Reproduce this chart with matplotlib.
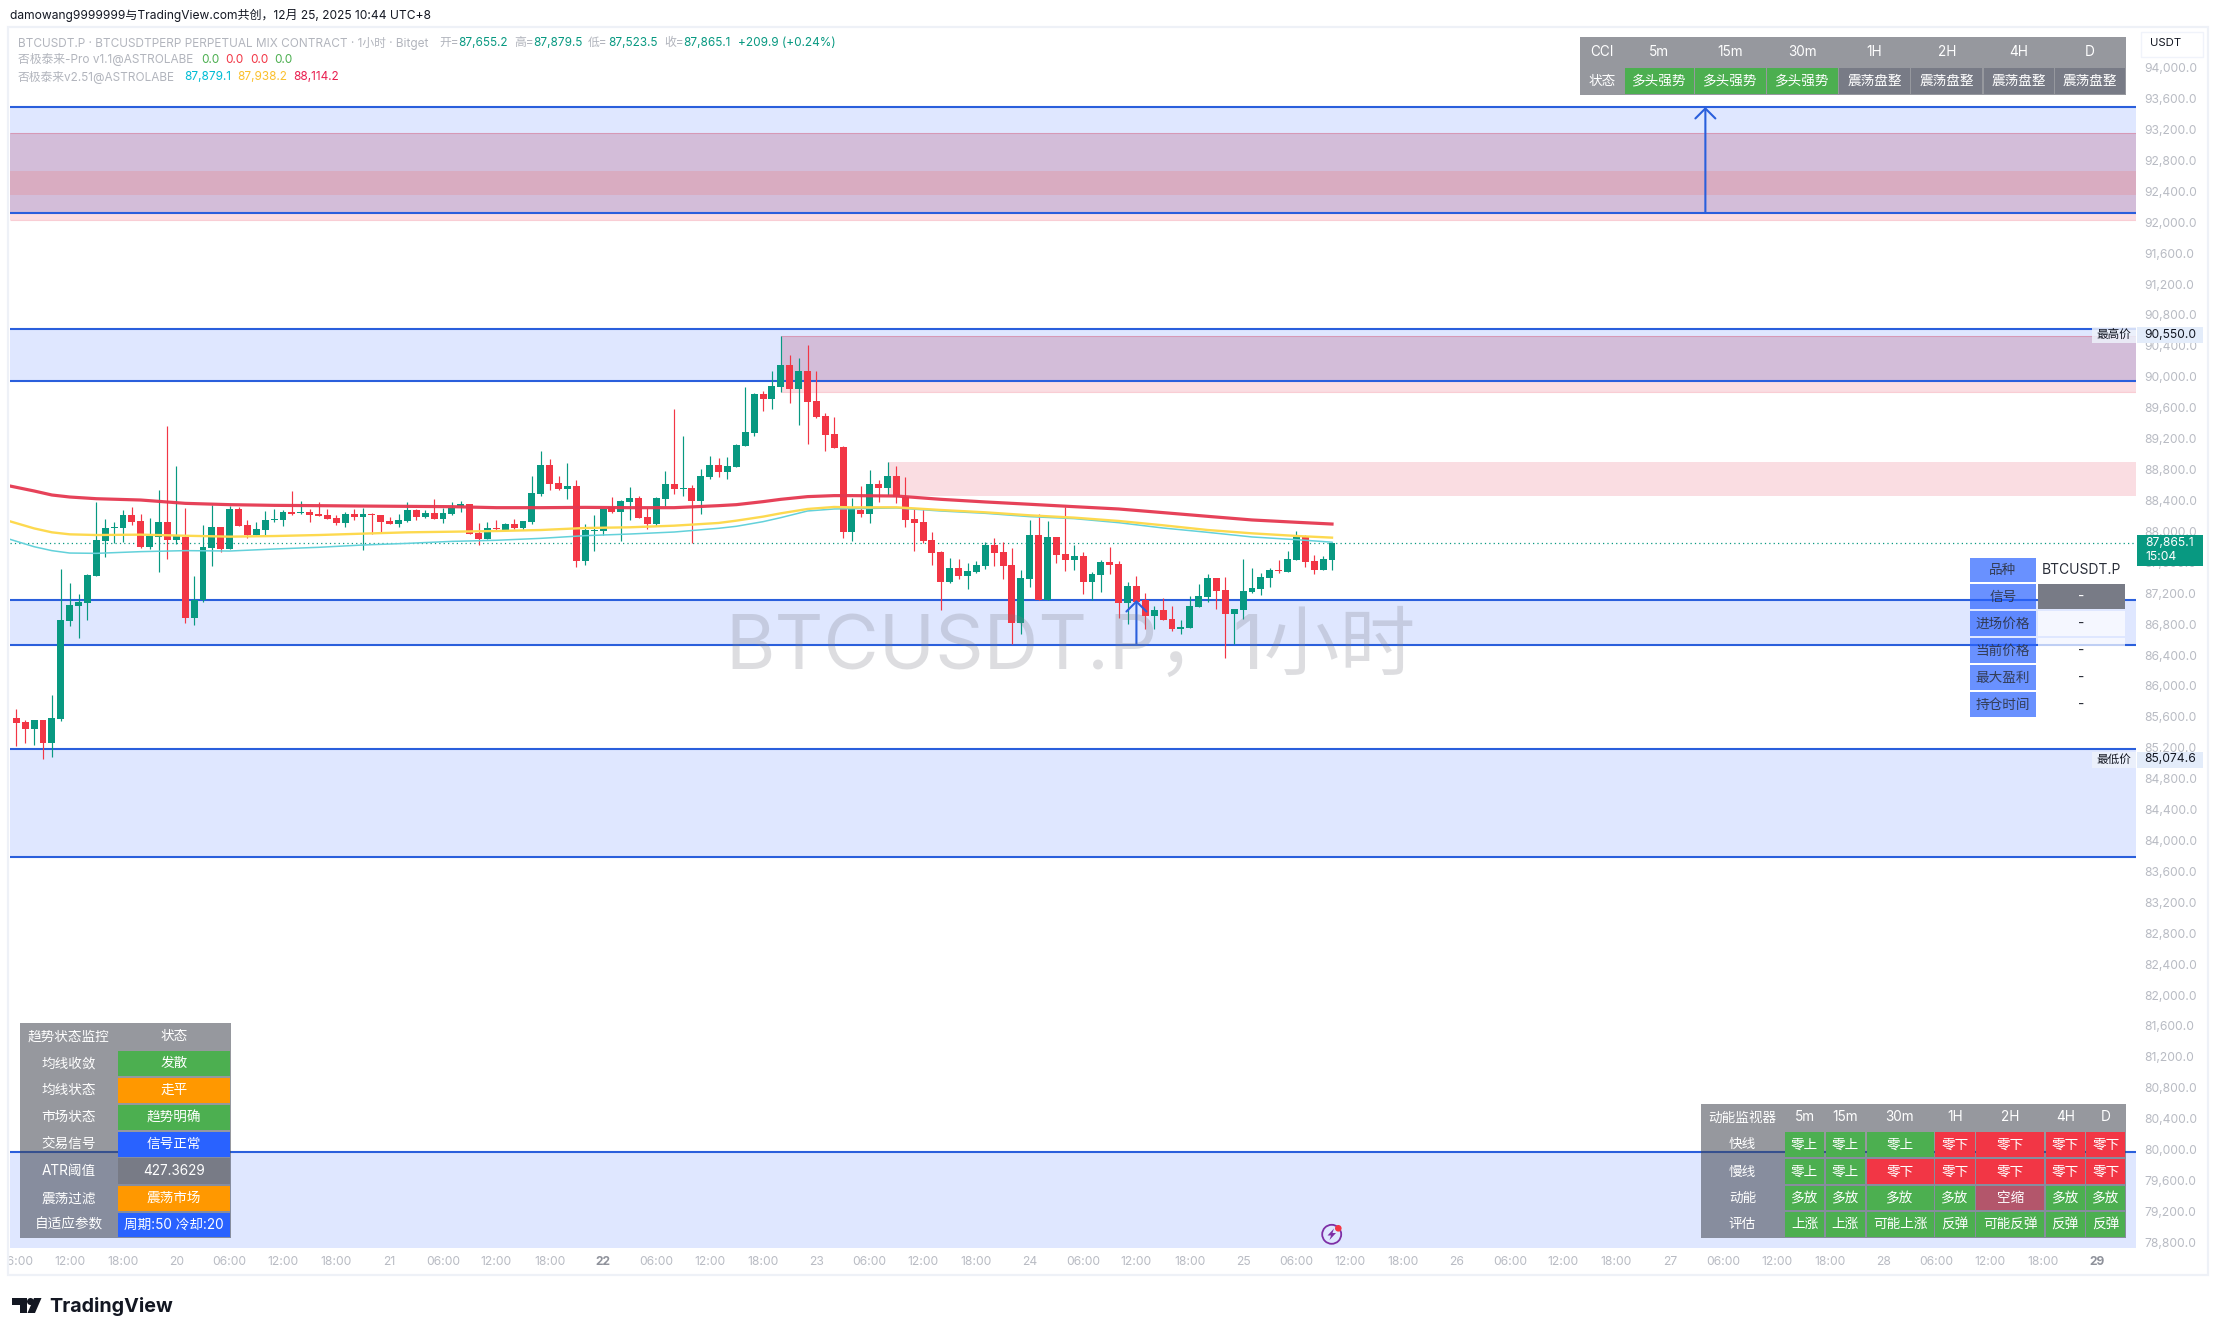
"""Recreate a TradingView BTCUSDT.P 1h chart with its indicator tables."""

import matplotlib

matplotlib.use("Agg")
import matplotlib.pyplot as plt  # noqa: E402
from matplotlib.patches import Circle, Polygon, Rectangle  # noqa: E402
from matplotlib.ticker import StrMethodFormatter  # noqa: E402
from matplotlib.transforms import ScaledTranslation  # noqa: E402

plt.rcParams["font.family"] = ["Inter", "Noto Sans CJK SC", "DejaVu Sans"]

W, H = 2218, 1336

# hourly candles, 19 Dec 06:00 to 25 Dec 10:00
opens = [
    85600, 85553, 85466, 85574, 85285, 85592, 86864, 87054, 87097, 87446,
    87899, 88067, 88067, 88227, 88149, 87821, 87951, 88140, 87912, 87951,
    86903, 87131, 87808, 88076, 87795, 88309, 88097, 87972, 88037, 88166,
    88166, 88266, 88257, 88270, 88240, 88227, 88188, 88128, 88240, 88209,
    88240, 88227, 88149, 88115, 88158, 88291, 88205, 88253, 88179, 88240,
    88352, 88374, 87994, 87921, 88059, 88037, 88115, 88063, 88141, 88507,
    88878, 88645, 88568, 88607, 87640, 88029, 88029, 88335, 88274, 88400,
    88451, 88205, 88115, 88438, 88632, 88568, 88581, 88412, 88727, 88878,
    88788, 88852, 89124, 89292, 89797, 89732, 89887, 90172, 89862, 90095,
    89706, 89512, 89279, 89111, 88011, 88296, 88244, 88632, 88581, 88736,
    88469, 88180, 88141, 87908, 87753, 87365, 87546, 87442, 87494, 87572,
    87843, 87753, 87585, 86834, 87403, 87973, 87132, 87947, 87727, 87649,
    87701, 87365, 87455, 87623, 87598, 87093, 87313, 87132, 86925, 87002,
    86886, 86757, 86769, 87041, 87171, 87416, 87261, 86951, 87002, 87235,
    87274, 87416, 87520, 87494, 87649, 87947, 87636, 87520, 87655.2,
]
highs = [
    85717, 85579, 85579, 85579, 85902, 87532, 87351, 87205, 87463, 88399,
    88179, 88136, 88291, 88330, 88240, 88188, 88555, 89383, 88865, 88322,
    87442, 88097, 88360, 88076, 88347, 88330, 88166, 88136, 88278, 88304,
    88296, 88542, 88408, 88313, 88395, 88304, 88227, 88274, 88304, 88317,
    88253, 88227, 88209, 88240, 88395, 88309, 88291, 88438, 88317, 88395,
    88412, 88374, 88123, 88141, 88167, 88123, 88175, 88158, 88736, 89055,
    88952, 88736, 88900, 88684, 88111, 88227, 88309, 88460, 88425, 88589,
    88477, 88318, 88460, 88796, 89603, 89249, 88615, 88822, 88990, 88965,
    88982, 89150, 89883, 89806, 89836, 90090, 90550, 90302, 90258, 90431,
    90095, 89547, 89495, 89120, 88451, 88607, 88814, 88684, 88917, 88866,
    88719, 88305, 88305, 88012, 87761, 87675, 87662, 87606, 87632, 87878,
    87930, 87882, 87805, 87516, 88167, 88245, 88154, 87947, 88335, 87843,
    87753, 87494, 87649, 87818, 87632, 87365, 87442, 87222, 87054, 87153,
    87054, 86873, 87184, 87339, 87468, 87416, 87429, 87015, 87662, 87546,
    87481, 87546, 87649, 87766, 88025, 87973, 87714, 87701, 87879.5,
]
lows = [
    85246, 85285, 85259, 85075, 85104, 85570, 86795, 86644, 86872, 87446,
    87692, 87864, 87877, 88102, 87808, 87791, 87498, 87666, 87851, 86838,
    86812, 87110, 87575, 87757, 87795, 88089, 87929, 87972, 87972, 88145,
    88089, 88235, 88244, 88145, 88218, 88179, 88102, 88080, 88171, 87782,
    87981, 88007, 88110, 88080, 88136, 88166, 88197, 88175, 88132, 88231,
    88270, 87985, 87847, 87921, 88037, 88037, 88054, 88037, 88115, 88481,
    88555, 88555, 88438, 87563, 87589, 87770, 87973, 88261, 87899, 88167,
    88197, 88054, 88093, 88352, 88507, 88477, 87865, 88249, 88697, 88727,
    88697, 88852, 89124, 89258, 89577, 89603, 89823, 89680, 89396, 89150,
    89482, 89059, 89098, 87934, 87891, 88205, 88128, 88400, 88490, 88391,
    88081, 87770, 87865, 87585, 87002, 87352, 87403, 87274, 87481, 87533,
    87572, 87403, 86562, 86692, 87300, 87132, 87132, 87611, 87507, 87520,
    87209, 87132, 87235, 87468, 86899, 86821, 87106, 86757, 86757, 86873,
    86731, 86692, 86769, 87041, 87106, 87015, 86381, 86562, 86886, 87222,
    87197, 87300, 87481, 87494, 87649, 87559, 87468, 87520, 87523.5,
]
closes = [
    85544, 85466, 85574, 85285, 85600, 86872, 87062, 87105, 87450, 87908,
    88059, 88080, 88227, 88140, 87821, 87959, 88140, 87912, 87959, 86903,
    87131, 87817, 88076, 87795, 88309, 88093, 87972, 88046, 88162, 88179,
    88266, 88248, 88266, 88235, 88222, 88184, 88132, 88240, 88205, 88240,
    88227, 88145, 88115, 88162, 88291, 88205, 88253, 88179, 88253, 88326,
    88369, 87990, 87921, 88059, 88050, 88115, 88063, 88149, 88516, 88878,
    88632, 88568, 88607, 87640, 88037, 88037, 88305, 88274, 88412, 88451,
    88197, 88115, 88451, 88632, 88568, 88581, 88412, 88736, 88878, 88788,
    88865, 89137, 89305, 89797, 89732, 89900, 90172, 89862, 90095, 89693,
    89495, 89266, 89098, 88011, 88322, 88244, 88632, 88581, 88736, 88469,
    88167, 88128, 87895, 87740, 87365, 87546, 87442, 87507, 87585, 87843,
    87740, 87572, 86834, 87416, 87973, 87132, 87947, 87714, 87649, 87701,
    87365, 87468, 87623, 87585, 87093, 87313, 87106, 86925, 87002, 86873,
    86757, 86782, 87054, 87184, 87416, 87248, 86951, 87015, 87248, 87287,
    87429, 87520, 87507, 87662, 87947, 87623, 87520, 87662, 87865.1,
]

ma_idx = [-0.7, 2, 4, 6, 9, 14, 19, 24, 29, 34, 39, 44, 49, 54, 59, 64, 69, 74,
          79, 81, 84, 86, 89, 92, 94, 99, 104, 109, 114, 119, 124, 129, 134, 139, 144, 148]
ma_red = [88606, 88542, 88490, 88464, 88442, 88425, 88382, 88365, 88356, 88352, 88347, 88343,
          88339, 88326, 88326, 88330, 88326, 88326, 88352, 88365, 88404, 88434, 88469, 88482,
          88482, 88477, 88434, 88400, 88370, 88339, 88309, 88262, 88214, 88167, 88137, 88114.2]
ma_yellow = [88149, 88058, 88007, 87981, 87972, 87977, 87963, 87951, 87959, 87972, 87990, 88007,
             88015, 88024, 88037, 88063, 88072, 88093, 88128, 88158, 88210, 88253, 88309, 88335,
             88330, 88331, 88296, 88266, 88227, 88197, 88154, 88098, 88037, 87994, 87960, 87938.2]
ma_cyan = [87916, 87821, 87770, 87739, 87735, 87757, 87770, 87765, 87791, 87813, 87843, 87864,
           87890, 87904, 87929, 87964, 87985, 88011, 88059, 88085, 88145, 88197, 88283, 88309,
           88313, 88322, 88283, 88253, 88210, 88184, 88132, 88063, 88007, 87947, 87912, 87879.1]

# horizontal zones (low, high)
blue_low = [92143, 89965, 86549, 83803]
blue_high = [93511, 90640, 87131, 85204]
open_blue_top = 79992
pink_low = [92049, 89823, 88477]
pink_high = [93171, 90550, 88917]
pink_start = [-0.7, 86, 98]
stripe_low, stripe_high = 92370, 92687
arrow_idx = [190, 126]
arrow_low = [92143, 86549]
arrow_high = [93511, 87131]

last_price = 87865.1
max_price = 90550.0
min_price = 85074.6

time_labels = [
    "06:00", "12:00", "18:00",
    "20", "06:00", "12:00", "18:00", "21", "06:00", "12:00", "18:00",
    "22", "06:00", "12:00", "18:00", "23", "06:00", "12:00", "18:00",
    "24", "06:00", "12:00", "18:00", "25", "06:00", "12:00", "18:00",
    "26", "06:00", "12:00", "18:00", "27", "06:00", "12:00", "18:00",
    "28", "06:00", "12:00", "18:00", "29",
]
bold_ticks = ["22", "29"]

cci_head = ["CCI", "5m", "15m", "30m", "1H", "2H", "4H", "D"]
cci_state = ["状态", "多头强势", "多头强势", "多头强势", "震荡盘整", "震荡盘整", "震荡盘整", "震荡盘整"]

trend_names = ["趋势状态监控", "均线收敛", "均线状态", "市场状态", "交易信号", "ATR阈值", "震荡过滤", "自适应参数"]
trend_vals = ["状态", "发散", "走平", "趋势明确", "信号正常", "427.3629", "震荡市场", "周期:50 冷却:20"]

mom_head = ["动能监视器", "5m", "15m", "30m", "1H", "2H", "4H", "D"]
mom_rows = [
    ["快线", "零上", "零上", "零上", "零下", "零下", "零下", "零下"],
    ["慢线", "零上", "零上", "零下", "零下", "零下", "零下", "零下"],
    ["动能", "多放", "多放", "多放", "多放", "空缩", "多放", "多放"],
    ["评估", "上涨", "上涨", "可能上涨", "反弹", "可能反弹", "反弹", "反弹"],
]

pos_names = ["品种", "信号", "进场价格", "当前价格", "最大盈利", "持仓时间"]
pos_vals = ["BTCUSDT.P", "-", "-", "-", "-", "-"]

UP = "#089981"
DOWN = "#f23645"
LINE_BLUE = "#2a5fdc"
GREEN = "#4caf50"
ORANGE = "#ff9800"
BLUE = "#2962ff"
GREY = "#787b86"
PURPLE = "#7e2fa6"
TICK = "#b8bbc3"
LABEL = "#b2b5bd"
CELL_FONT = 9.8
LEGEND_FONT = 8.5

fig = plt.figure(figsize=(W / 100, H / 100), dpi=100, facecolor="white")
ax = fig.add_axes([10 / W, 1 - 1248 / H, 2126 / W, 1221 / H])
x_left, x_right = -0.709, 238.44
ax.set_xlim(x_left, x_right)
ax.set_ylim(78746, 94546)
for side in ax.spines.values():
    side.set_visible(False)

# zones
for lo, hi in zip(blue_low, blue_high):
    ax.axhspan(lo, hi, color="#2962ff", alpha=0.15, lw=0, zorder=1)
ax.axhspan(ax.get_ylim()[0], open_blue_top, color="#2962ff", alpha=0.15, lw=0, zorder=1)
for lo, hi, start in zip(pink_low, pink_high, pink_start):
    ax.fill_between([start, x_right], lo, hi, color="#e41c3e", alpha=0.15, lw=0, zorder=1.2)
# pink over blue comes out darker in the reference
ax.fill_between([pink_start[0], x_right], blue_low[0], pink_high[0], color="#000040", alpha=0.05, lw=0, zorder=1.25)
ax.fill_between([pink_start[1], x_right], blue_low[1], pink_high[1], color="#000040", alpha=0.05, lw=0, zorder=1.25)
ax.axhspan(stripe_low, stripe_high, color="#ff503c", alpha=0.15, lw=0, zorder=1.3)
for lo, hi, start in zip(pink_low[:2], pink_high[:2], pink_start[:2]):
    ax.hlines([lo, hi], start, x_right, color="#e41c3e", alpha=0.22, lw=0.8, zorder=1.35)
for level in blue_low + blue_high + [open_blue_top]:
    ax.axhline(level, color=LINE_BLUE, lw=1.5, zorder=1.5)

# candles
idx = list(range(len(opens)))
colors = [UP if c >= o else DOWN for o, c in zip(opens, closes)]
ax.vlines(idx, lows, highs, colors=colors, lw=0.85, zorder=3)
ax.bar(idx, [max(abs(c - o), 12) for o, c in zip(opens, closes)],
       bottom=[min(o, c) for o, c in zip(opens, closes)],
       width=0.78, color=colors, lw=0, zorder=3.1)

ax.plot(ma_idx, ma_cyan, color="#63d1da", lw=1.1, zorder=4)
ax.plot(ma_idx, ma_yellow, color="#fdd94f", lw=1.7, zorder=4.1)
ax.plot(ma_idx, ma_red, color="#e53850", lw=2.3, zorder=4.2, alpha=0.95)

ax.axhline(last_price, color=UP, lw=0.9, ls=(0, (1, 2.5)), zorder=2)

for i, lo, hi in zip(arrow_idx, arrow_low, arrow_high):
    ax.annotate("", xy=(i, hi), xytext=(i, lo), zorder=5,
                arrowprops=dict(arrowstyle="->,head_length=0.5,head_width=0.5", color=LINE_BLUE,
                                lw=1.5, mutation_scale=14.4, shrinkA=0, shrinkB=0))

# axes labels
ax.yaxis.tick_right()
ax.set_yticks(list(range(78800, 94400, 400)))
ax.yaxis.set_major_formatter(StrMethodFormatter("{x:,.1f}"))
ax.tick_params(axis="y", length=0, pad=5.9, labelsize=8.7, labelcolor=TICK)
nudge = ScaledTranslation(0, 1.5 / 100, fig.dpi_scale_trans)
for tick in ax.yaxis.get_major_ticks():
    tick.label2.set_transform(tick.label2.get_transform() + nudge)
ax.set_xticks(list(range(0, 235, 6)))
ax.set_xticklabels(time_labels)
ax.tick_params(axis="x", length=0, pad=5.8, labelsize=8.7, labelcolor=TICK)
for tick in ax.get_xticklabels():
    if tick.get_text() in bold_ticks:
        tick.set_fontweight("bold")
        tick.set_color("#8f929b")

# pixel overlay for tables and labels
ov = fig.add_axes([0, 0, 1, 1], zorder=10)
ov.set_xlim(0, W)
ov.set_ylim(H, 0)
ov.axis("off")
ov.patch.set_alpha(0)

ov.add_patch(Rectangle((0, 1250), 8, 26, fc="white", ec="none"))
ov.add_patch(Rectangle((8, 27), 2200, 1248, fc="none", ec="#eef1f7", lw=1.6))

ov.text(1071, 649, "BTCUSDT.P，1小时", color=GREY, alpha=0.25, fontsize=54.5, ha="center", va="center")


def put(x, y, s, color="white", size=CELL_FONT, ha="center", **kw):
    ov.text(x, y, s, color=color, fontsize=size, ha=ha, va="center", **kw)


def cell(x0, x1, y0, y1, color, alpha=1.0, inset=0.8):
    ov.add_patch(Rectangle((x0 + inset, y0 + inset), x1 - x0 - 2 * inset, y1 - y0 - 2 * inset,
                           fc=color, ec="none", alpha=alpha))


def backdrop(x0, x1, y0, y1):
    ov.add_patch(Rectangle((x0, y0), x1 - x0, y1 - y0, fc="#40444f", ec="none", alpha=0.55))


def mid(a, b):
    return (a + b) / 2


# header legends
put(10, 15, "damowang9999999与TradingView.com共创，12月 25, 2025 10:44 UTC+8", color="#131722", size=8.65, ha="left")
put(18, 43, "BTCUSDT.P · BTCUSDTPERP PERPETUAL MIX CONTRACT · 1小时 · Bitget", color=LABEL, size=LEGEND_FONT, ha="left")
for x, s in [(439, "开="), (514, "高="), (588, "低="), (664, "收=")]:
    put(x, 43, s, color=LABEL, size=LEGEND_FONT, ha="left")
for x, s in [(458, "87,655.2"), (533, "87,879.5"), (608, "87,523.5"), (683, "87,865.1"), (738, "+209.9 (+0.24%)")]:
    put(x, 43, s, color=UP, size=LEGEND_FONT, ha="left")
put(18, 60, "否极泰来-Pro v1.1@ASTROLABE", color=LABEL, size=LEGEND_FONT, ha="left")
for x, c in [(201, GREEN), (225, DOWN), (250, DOWN), (274, GREEN)]:
    put(x, 60, "0.0", color=c, size=LEGEND_FONT, ha="left")
put(18, 77, "否极泰来v2.51@ASTROLABE", color=LABEL, size=LEGEND_FONT, ha="left")
for x, s, c in [(184, "87,879.1", "#00bcd4"), (237, "87,938.2", "#fbc02d"), (293, "88,114.2", "#e91e4f")]:
    put(x, 77, s, color=c, size=LEGEND_FONT, ha="left")

# CCI table
cci_x = [1580, 1624, 1694.3, 1766.5, 1838.6, 1910.4, 1983, 2054.3, 2126]
cci_y = [36.7, 66.7, 95]
backdrop(cci_x[0], cci_x[-1], cci_y[0], cci_y[-1])
for c, s in enumerate(cci_head):
    put(mid(cci_x[c], cci_x[c + 1]), mid(cci_y[0], cci_y[1]), s)
for c, s in enumerate(cci_state):
    xm = mid(cci_x[c], cci_x[c + 1])
    if c:
        cell(cci_x[c], cci_x[c + 1], cci_y[1], cci_y[2], GREEN if s == "多头强势" else GREY)
    put(xm, mid(cci_y[1], cci_y[2]), s)

# trend table
tr_x = [20, 117, 231]
tr_y = [1022.7, 1050, 1076.7, 1103.7, 1130.7, 1157.3, 1184.7, 1211.7, 1238]
tr_colors = [None, GREEN, ORANGE, GREEN, BLUE, GREY, ORANGE, BLUE]
backdrop(tr_x[0], tr_x[-1], tr_y[0], tr_y[-1])
for r, (name, val, col) in enumerate(zip(trend_names, trend_vals, tr_colors)):
    ym = mid(tr_y[r], tr_y[r + 1])
    if col:
        cell(tr_x[1], tr_x[2], tr_y[r], tr_y[r + 1], col)
    put(mid(tr_x[0], tr_x[1]), ym, name)
    put(mid(tr_x[1], tr_x[2]), ym, val)

# momentum table
mo_x = [1701, 1784, 1825.2, 1865.7, 1934.3, 1975.5, 2044.8, 2085.6, 2126]
mo_y = [1104, 1130.7, 1158, 1185, 1211, 1237.7]
mo_fill = {"零上": GREEN, "零下": DOWN, "多放": GREEN, "空缩": "#b3566b"}
backdrop(mo_x[0], mo_x[-1], mo_y[0], mo_y[-1])
for c, s in enumerate(mom_head):
    put(mid(mo_x[c], mo_x[c + 1]), mid(mo_y[0], mo_y[1]), s)
for r, row in enumerate(mom_rows):
    for c, s in enumerate(row):
        xm, ym = mid(mo_x[c], mo_x[c + 1]), mid(mo_y[r + 1], mo_y[r + 2])
        if c:
            cell(mo_x[c], mo_x[c + 1], mo_y[r + 1], mo_y[r + 2], mo_fill.get(s, GREEN))
        put(xm, ym, s)

# position table
po_x = [1969, 2037, 2126]
po_y = [557, 583.3, 610.3, 637.3, 664.3, 691.3, 718]
for r, (name, val) in enumerate(zip(pos_names, pos_vals)):
    ym = mid(po_y[r], po_y[r + 1])
    cell(po_x[0], po_x[1], po_y[r], po_y[r + 1], BLUE, alpha=0.7)
    put(mid(po_x[0], po_x[1]), ym, name, color="#2a2e39", alpha=0.85)
    if r == 1:
        cell(po_x[1], po_x[2], po_y[r], po_y[r + 1], GREY)
    elif r:
        cell(po_x[1], po_x[2], po_y[r], po_y[r + 1], "white", alpha=0.7)
    put(mid(po_x[1], po_x[2]), ym, val, color="white" if r == 1 else "#2a2e39", size=10 if r == 0 else CELL_FONT)

# price axis tags
ov.add_patch(Rectangle((2141, 32), 62, 25, fc="white", ec="#f0f3fa", lw=1))
put(2150, 43, "USDT", color="#131722", size=8.2, ha="left")

ov.add_patch(Rectangle((2137, 535), 66, 31, fc=UP, ec="none"))
put(2145, 543, "87,865.1", size=8.7, ha="left")
put(2145, 557, "15:04", size=8.7, ha="left")

for y, name, price in [(335, "最高价", max_price), (759.5, "最低价", min_price)]:
    ov.add_patch(Rectangle((2137, y - 8), 66, 16, fc="#e3ecfa", ec="none"))
    put(2170, y, f"{price:,.1f}", color="#131722", size=8.7)
    ov.add_patch(Rectangle((2092, y - 8), 44, 16, fc="#eef2fb", ec="none", alpha=0.85))
    put(2131, y, name, color="#131722", size=8.4, ha="right")

# lightning marker
ov.add_patch(Circle((1331.7, 1234.3), 9.5, fc="none", ec=PURPLE, lw=1.3))
ov.add_patch(Circle((1338.3, 1228.3), 3.3, fc=DOWN, ec="none"))
ov.add_patch(Polygon([(1334, 1228.5), (1327.5, 1235.5), (1331, 1235.5), (1329.5, 1240), (1336, 1233), (1332.5, 1233)],
                     fc=PURPLE, ec="none"))

# logo
ov.add_patch(Polygon([(12, 1298), (27, 1298), (27, 1313), (20, 1313), (20, 1304.5), (12, 1304.5)], fc="#131722", ec="none"))
ov.add_patch(Circle((30.5, 1301.5), 3.5, fc="#131722", ec="none"))
ov.add_patch(Polygon([(34, 1298), (41.5, 1298), (35, 1313), (27.5, 1313)], fc="#131722", ec="none"))
ov.text(49, 1306, "TradingView", color="#131722", fontsize=14.2, fontweight="bold", ha="left", va="center")

fig.savefig("out.png", dpi=100)
